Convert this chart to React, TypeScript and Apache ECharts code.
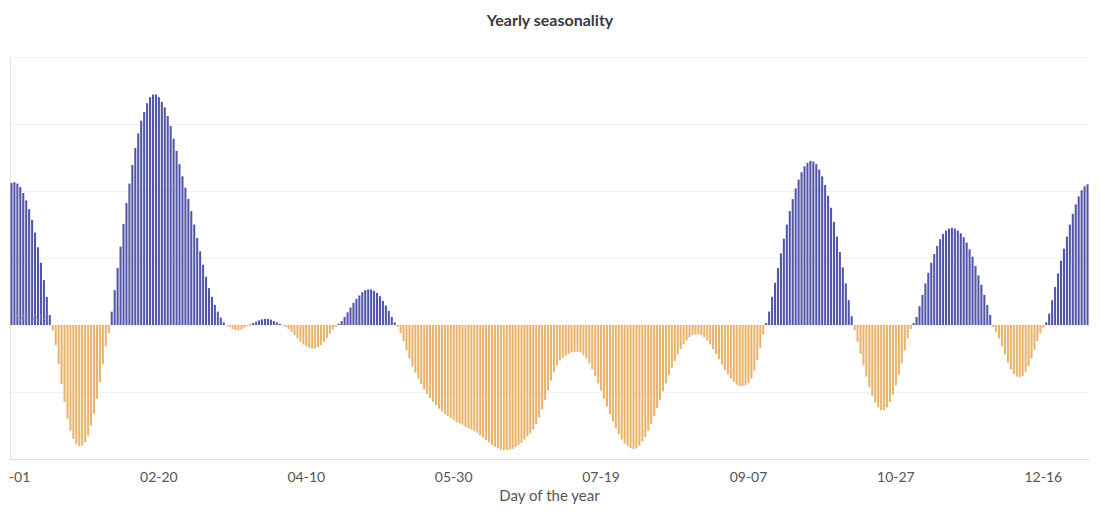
import React, { useEffect, useRef } from "react";
import * as echarts from "echarts";

// Day-of-year categories (leap year, MM-DD)
const days: string[] = [];
for (let i = 0; i < 366; i++) {
  const d = new Date(Date.UTC(2020, 0, 1 + i));
  const mm = String(d.getUTCMonth() + 1).padStart(2, "0");
  const dd = String(d.getUTCDate()).padStart(2, "0");
  days.push(`${mm}-${dd}`);
}

// Seasonality values, segment by segment
const segJanStart = [2.12, 2.13, 2.11, 2.06, 1.97, 1.86, 1.73, 1.57, 1.38, 1.16, 0.93, 0.67, 0.42, 0.15];
const segJanDip = [-0.08, -0.3, -0.58, -0.88, -1.15, -1.4, -1.58, -1.7, -1.78, -1.81, -1.8, -1.75, -1.65, -1.5, -1.32, -1.1, -0.85, -0.58, -0.32, -0.12];
const segFebPeak = [0.2, 0.52, 0.85, 1.17, 1.51, 1.82, 2.11, 2.39, 2.64, 2.86, 3.05, 3.18, 3.31, 3.4, 3.44, 3.44, 3.4, 3.33, 3.25, 3.12, 2.97];
const segFebFall = [2.78, 2.6, 2.4, 2.22, 2.05, 1.88, 1.7, 1.5, 1.3, 1.1, 0.9, 0.72, 0.55, 0.42, 0.3, 0.2, 0.11, 0.04];
const segMarDip = [-0.01, -0.03, -0.06, -0.08, -0.08, -0.07, -0.04, -0.02];
const segMarBump = [0.01, 0.03, 0.05, 0.07, 0.085, 0.09, 0.09, 0.08, 0.06, 0.04, 0.02];
const segAprDip = [-0.01, -0.03, -0.06, -0.1, -0.15, -0.2, -0.25, -0.29, -0.32, -0.34, -0.35, -0.35, -0.33, -0.3, -0.25, -0.19, -0.13, -0.07, -0.03];
const segMayBump = [0.02, 0.06, 0.12, 0.19, 0.26, 0.33, 0.39, 0.44, 0.49, 0.52, 0.53, 0.53, 0.51, 0.48, 0.43, 0.36, 0.29, 0.21, 0.12, 0.04];
const segSummer = [
  -0.03, -0.12, -0.24, -0.38, -0.5, -0.62, -0.71, -0.8, -0.88, -0.96,
  -1.03, -1.09, -1.15, -1.2, -1.25, -1.29, -1.33, -1.36, -1.39, -1.42,
  -1.45, -1.47, -1.49, -1.52, -1.54, -1.56, -1.58, -1.61, -1.65, -1.68,
  -1.72, -1.75, -1.79, -1.82, -1.84, -1.86, -1.87, -1.87, -1.86, -1.85,
  -1.82, -1.79, -1.76, -1.71, -1.66, -1.62, -1.56, -1.48, -1.38, -1.26,
  -1.12, -0.98, -0.83, -0.7, -0.6, -0.53, -0.49, -0.46, -0.43, -0.41,
  -0.4, -0.4, -0.41, -0.45, -0.5, -0.57, -0.66, -0.76, -0.87, -0.98,
  -1.1, -1.22, -1.33, -1.44, -1.54, -1.63, -1.71, -1.77, -1.81, -1.84,
  -1.85, -1.84, -1.8, -1.74, -1.67, -1.58, -1.48, -1.36, -1.24, -1.12,
  -0.99, -0.87, -0.75, -0.64, -0.54, -0.44, -0.36, -0.29, -0.23, -0.18,
  -0.15, -0.14, -0.14, -0.15, -0.18, -0.23, -0.29, -0.36, -0.43, -0.51,
  -0.59, -0.67, -0.74, -0.8, -0.85, -0.89, -0.91, -0.91, -0.9, -0.87,
  -0.8, -0.68, -0.52, -0.34, -0.14, 0.03,
];
const segSepPeak = [0.2, 0.42, 0.63, 0.85, 1.07, 1.29, 1.5, 1.7, 1.88, 2.04, 2.17, 2.28, 2.37, 2.42, 2.45, 2.44, 2.4, 2.32, 2.22, 2.09, 1.93, 1.75, 1.54, 1.32, 1.09, 0.86, 0.62, 0.37, 0.13];
const segOctDip = [-0.08, -0.25, -0.43, -0.6, -0.77, -0.93, -1.06, -1.16, -1.23, -1.27, -1.27, -1.23, -1.15, -1.04, -0.9, -0.74, -0.57, -0.38, -0.2, -0.06];
const segNovPeak = [0.03, 0.12, 0.28, 0.45, 0.62, 0.78, 0.93, 1.06, 1.18, 1.28, 1.36, 1.41, 1.44, 1.45, 1.44, 1.41, 1.37, 1.31, 1.23, 1.13, 1.02, 0.88, 0.74, 0.6, 0.45, 0.3, 0.15];
const segDecDip = [-0.03, -0.1, -0.2, -0.32, -0.44, -0.56, -0.66, -0.73, -0.77, -0.78, -0.76, -0.7, -0.61, -0.5, -0.37, -0.24, -0.12, -0.04];
const segDecEnd = [0.04, 0.17, 0.37, 0.57, 0.77, 0.96, 1.14, 1.32, 1.5, 1.66, 1.8, 1.92, 2.01, 2.07, 2.1];

const values: number[] = [
  ...segJanStart, ...segJanDip, ...segFebPeak, ...segFebFall, ...segMarDip,
  ...segMarBump, ...segAprDip, ...segMayBump, ...segSummer, ...segSepPeak,
  ...segOctDip, ...segNovPeak, ...segDecDip, ...segDecEnd,
];

const BLUE = "#5356a8";
const ORANGE = "#e9b46a";
const FONT = "Lato, 'Noto Sans', sans-serif";

export default function App() {
  const ref = useRef<HTMLDivElement>(null);
  useEffect(() => {
    if (!ref.current) return;
    const chart = echarts.init(ref.current, undefined, { renderer: "svg" });
    chart.setOption({
      animation: false,
      title: {
        text: "Yearly seasonality",
        left: "center",
        top: -2,
        textStyle: { fontFamily: FONT, fontSize: 16, fontWeight: "bold", color: "#3a3a3a" },
      },
      grid: { left: 2, right: 3, top: 49, bottom: 57, containLabel: false, outerBoundsMode: "none" },
      xAxis: {
        type: "category",
        data: days,
        name: "Day of the year",
        nameLocation: "middle",
        nameGap: 26,
        nameTextStyle: { fontFamily: FONT, fontSize: 15, color: "#555" },
        axisLine: { onZero: false, lineStyle: { color: "#dcdcdc" } },
        axisTick: { show: false },
        axisLabel: { interval: 49, margin: 10, fontFamily: FONT, fontSize: 14, color: "#555", hideOverlap: false },
        splitLine: { show: false },
      },
      yAxis: {
        type: "value",
        min: -2,
        max: 4,
        interval: 1,
        axisLabel: { show: false },
        axisTick: { show: false },
        axisLine: { show: true, lineStyle: { color: "#e4e4e4" } },
        splitLine: { lineStyle: { color: "#f0f0f0" } },
      },
      graphic: [
        {
          type: "text",
          left: 7,
          top: 304,
          z: 100,
          style: {
            text: "MEAN",
            fontFamily: FONT,
            fontSize: 11,
            fill: "rgba(150,150,170,0.55)",
          },
        },
      ],
      series: [
        {
          type: "bar",
          data: values,
          barCategoryGap: "30%",
          itemStyle: {
            color: (p: any) => (p.value >= 0 ? BLUE : ORANGE),
          },
        },
      ],
    });
    return () => chart.dispose();
  }, []);
  return <div ref={ref} style={{ width: 1084, height: 508 }} />;
}
